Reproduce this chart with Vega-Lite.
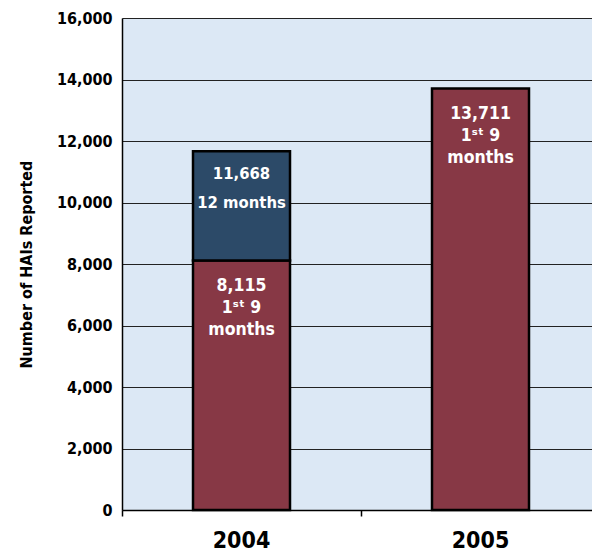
{
  "$schema": "https://vega.github.io/schema/vega-lite/v6.json",
  "autosize": {"type": "none"},
  "padding": {"left": 122, "top": 18, "right": 0, "bottom": 42},
  "width": 478,
  "height": 492,
  "background": "white",
  "config": {
    "view": {"fill": "#dce8f5", "stroke": null},
    "font": "DejaVu Sans Condensed"
  },
  "data": {
    "values": [
      {"year": "2004", "segment": "1st 9 months", "order": 1, "value": 8115, "label": ["8,115", "1ˢᵗ 9", "months"]},
      {"year": "2004", "segment": "12 months", "order": 2, "value": 3553, "label": ["11,668", "12 months"]},
      {"year": "2005", "segment": "1st 9 months", "order": 1, "value": 13711, "label": ["13,711", "1ˢᵗ 9", "months"]}
    ]
  },
  "transform": [
    {"stack": "value", "groupby": ["year"], "sort": [{"field": "order"}], "as": ["v0", "v1"]}
  ],
  "encoding": {
    "x": {
      "field": "year", "type": "nominal",
      "scale": {"paddingInner": 0, "paddingOuter": 0},
      "axis": {
        "title": null, "labelAngle": 0, "bandPosition": 0,
        "labelFontSize": 23, "labelFontWeight": "bold", "labelColor": "black", "labelPadding": 13,
        "domainColor": "black", "domainWidth": 1.5, "tickColor": "black", "tickSize": 6, "tickWidth": 1.5
      }
    }
  },
  "layer": [
    {
      "mark": {"type": "bar", "width": 97, "stroke": "black", "strokeWidth": 2.5},
      "encoding": {
        "y": {
          "field": "v1", "type": "quantitative",
          "scale": {"domain": [0, 16000], "nice": false},
          "axis": {
            "values": [0, 2000, 4000, 6000, 8000, 10000, 12000, 14000, 16000],
            "format": ",.0f", "title": "Number of HAIs Reported",
            "titleFontSize": 16, "titleFontWeight": "bold", "titleColor": "black", "titlePadding": 22,
            "labelFontSize": 16, "labelFontWeight": "bold", "labelColor": "black", "labelPadding": 10,
            "ticks": false, "domainColor": "black", "domainWidth": 1.5,
            "grid": true, "gridColor": "#222", "gridWidth": 1
          }
        },
        "y2": {"field": "v0"},
        "color": {
          "field": "segment", "type": "nominal",
          "scale": {"domain": ["1st 9 months", "12 months"], "range": ["#873845", "#2c4a68"]},
          "legend": null
        }
      }
    },
    {
      "transform": [{"filter": "datum.segment === '1st 9 months'"}],
      "mark": {"type": "text", "color": "white", "fontSize": 17.5, "fontWeight": "bold", "baseline": "top", "dy": 17, "lineHeight": 22},
      "encoding": {
        "y": {"field": "v1", "type": "quantitative"},
        "text": {"field": "label"}
      }
    },
    {
      "transform": [{"filter": "datum.segment === '12 months'"}],
      "mark": {"type": "text", "color": "white", "fontSize": 16.5, "fontWeight": "bold", "baseline": "top", "dy": 15, "lineHeight": 29},
      "encoding": {
        "y": {"field": "v1", "type": "quantitative"},
        "text": {"field": "label"}
      }
    }
  ]
}
